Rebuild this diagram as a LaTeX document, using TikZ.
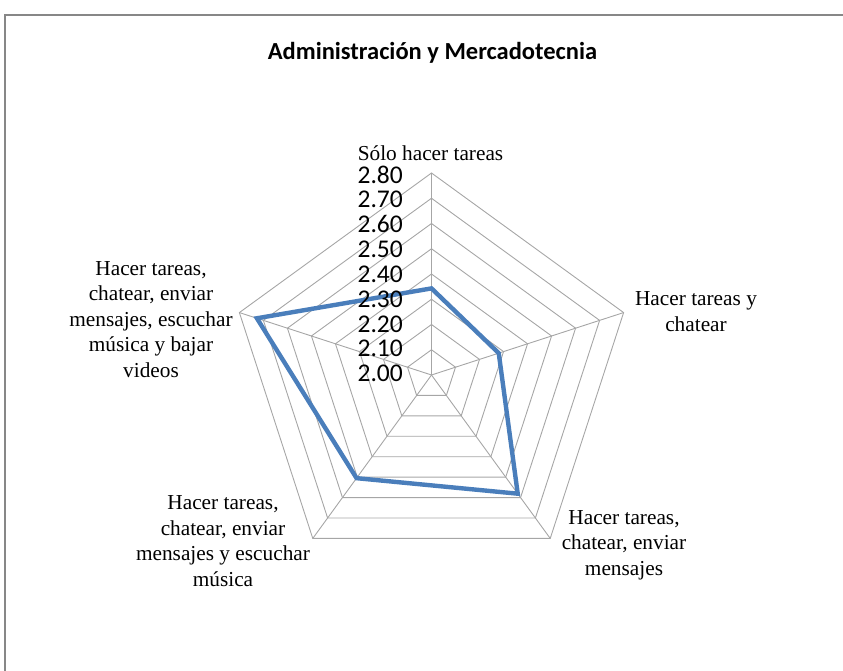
\documentclass[tikz,border=0pt]{standalone}
\usepackage{fontspec}
\setmainfont{Liberation Serif}
\newfontfamily\calfont{Carlito}
\definecolor{framegray}{HTML}{878787}
\definecolor{gridgray}{HTML}{A6A6A6}
\definecolor{serieblue}{HTML}{4A7EBB}
\tikzset{
  frameline/.style={draw=framegray, line width=2pt},
  gridline/.style={draw=gridgray, line width=0.9pt},
  serie/.style={draw=serieblue, line width=4.4pt, line join=miter},
  ticklabel/.style={anchor=east, inner sep=0pt, font=\calfont\fontsize{25.5}{30}\selectfont},
  axislabel/.style={align=center, inner sep=0pt, font=\fontsize{21.3}{25.5}\selectfont},
  charttitle/.style={inner sep=0pt, font=\calfont\bfseries\fontsize{24.5}{29}\selectfont}
}
\begin{document}
\begin{tikzpicture}[x=1pt,y=-1pt]
\useasboundingbox (0,0) rectangle (843,671);
% chart frame (runs off the right and bottom edges)
\coordinate (fb) at (5,671);
\coordinate (fc) at (5,15);
\coordinate (fr) at (843,15);
\draw[frameline] (fb) -- (fc) -- (fr);

\node[charttitle] (title) at (432.5,52.5) {Administración y Mercadotecnia};

% radar grid: 8 rings of 25.25 each, five spokes
\begin{scope}[shift={(431.5,375)}]
  \coordinate (O) at (0,0);
  \foreach \k in {1,...,8}{
    \pgfmathsetmacro{\r}{25.25*\k}
    \draw[gridline] (-90:\r) -- (-18:\r) -- (54:\r) -- (126:\r) -- (198:\r) -- cycle;
  }
  \foreach \a/\n in {-90/a1,-18/a2,54/a3,126/a4,198/a5}{
    \coordinate (\n) at (\a:202);
    \draw[gridline] (O) -- (\n);
  }
  % data series: radius = 252.5*(value-2)
  \coordinate (p1) at (-90:{252.5*0.343});
  \coordinate (p2) at (-18:{252.5*0.280});
  \coordinate (p3) at (54:{252.5*0.581});
  \coordinate (p4) at (126:{252.5*0.505});
  \coordinate (p5) at (198:{252.5*0.727});
  \draw[serie] (p1) -- (p2) -- (p3) -- (p4) -- (p5) -- cycle;
\end{scope}

% value axis labels
\foreach \i/\v in {0/2.80,1/2.70,2/2.60,3/2.50,4/2.40,5/2.30,6/2.20,7/2.10,8/2.00}{
  \node[ticklabel] (t\i) at (403,{174.5+24.9*\i}) {\v};
}

% category labels
\node[axislabel] (c1) at (430.5,153) {Sólo hacer tareas};
\node[axislabel] (c2) at (696,311.5) {Hacer tareas y\\chatear};
\node[axislabel] (c3) at (624,545) {Hacer tareas,\\chatear, enviar\\mensajes};
\node[axislabel] (c4) at (223,541) {Hacer tareas,\\chatear, enviar\\mensajes y escuchar\\música};
\node[axislabel] (c5) at (151,319.5) {Hacer tareas,\\chatear, enviar\\mensajes, escuchar\\música y bajar\\videos};
\end{tikzpicture}
\end{document}
